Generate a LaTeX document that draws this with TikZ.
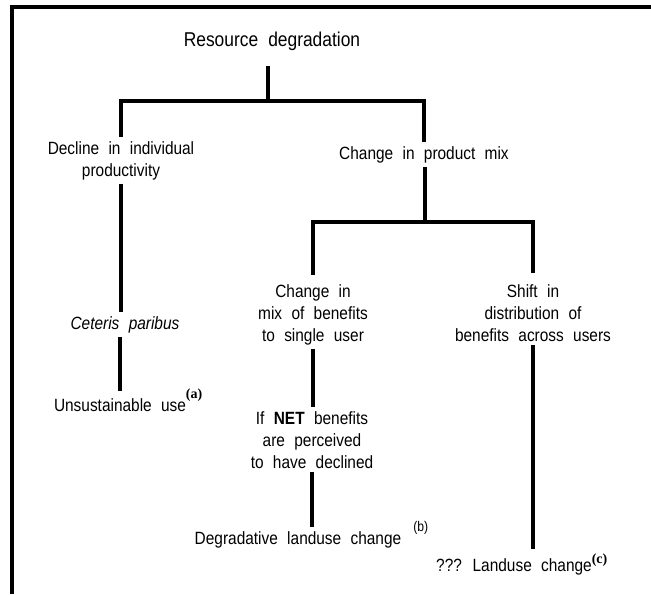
\documentclass[tikz,border=0pt]{standalone}
\usepackage{fontspec}
\setmainfont{Liberation Sans}[FakeStretch=0.87]
\newfontfamily\notefont{Liberation Serif}
\newcommand{\treefont}{\fontsize{13.3}{16.5}\selectfont\spaceskip=7pt plus 1pt\relax}
\newcommand{\rootfont}{\fontsize{15}{18}\selectfont\spaceskip=7.5pt plus 1pt\relax}
\newcommand{\boldnote}[2]{\rlap{\raisebox{#1}{\notefont\bfseries\fontsize{10.5}{10.5}\selectfont(#2)}}}
\newcommand{\plainnote}[2]{\rlap{\hspace{9pt}\raisebox{#1}{\fontsize{10.5}{10.5}\selectfont(#2)}}}
\begin{document}
\begin{tikzpicture}[x=0.75pt,y=-0.75pt,
    every node/.style={font=\treefont,align=center,inner ysep=3pt,inner xsep=2pt,anchor=base},
    branch/.style={line width=3pt}]
  \useasboundingbox (0,0) rectangle (651,594);
  % frame
  \draw[line width=3pt] (12,594) -- (12,7) -- (651,7);
  % nodes (multi-line ones sit on their last line)
  \node[font=\rootfont] (root) at (272,46) {Resource degradation};
  \node (decline) at (121,176) {Decline in individual\\productivity};
  \node (product) at (424,159) {Change in product mix};
  \node (ceteris) at (125,329) {\itshape Ceteris paribus};
  \node (unsust) at (120,411) {Unsustainable use\boldnote{9.75pt}{a}};
  \node (single) at (313,341) {Change in\\mix of benefits\\to single user};
  \node (shift) at (533,341) {Shift in\\distribution of\\benefits across users};
  \node (net) at (312,468) {If \textbf{NET} benefits\\are perceived\\to have declined};
  \node (degr) at (298,544) {Degradative landuse change\plainnote{9.75pt}{b}};
  \node (lchange) at (514,571) {??? Landuse change\boldnote{6pt}{c}};
  % junctions
  \coordinate (topjoin) at (268,101);
  \coordinate (midjoin) at (425,222);
  % branches
  \draw[branch,shorten <=9pt] (root.south -| topjoin) -- (topjoin);
  \draw[branch] (decline.north) |- (topjoin) -| (product.north);
  \draw[branch] (product.south -| midjoin) -- (midjoin);
  \draw[branch,shorten <=4pt,shorten >=5pt] (single.north) |- (midjoin) -| (shift.north);
  \draw[branch] (decline.south) -- (decline.south |- ceteris.north);
  \draw[branch,shorten >=-5pt] (unsust.north |- ceteris.south) -- (unsust.north);
  \draw[branch] (single.south) -- (single.south |- net.north);
  \draw[branch,shorten >=-8pt] (net.south) -- (net.south |- degr.north);
  \draw[branch] (shift.south) -- (shift.south |- lchange.north);
\end{tikzpicture}
\end{document}
